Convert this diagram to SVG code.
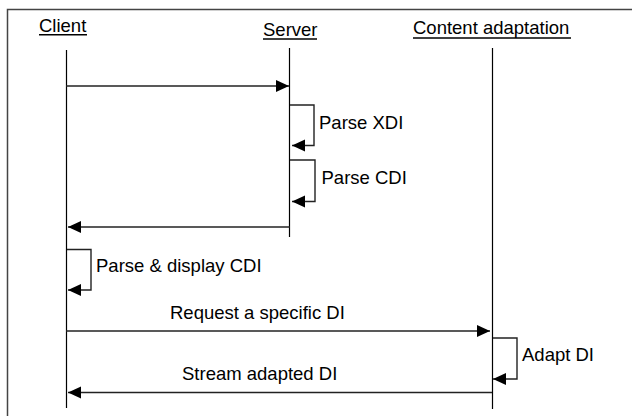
<svg xmlns="http://www.w3.org/2000/svg" width="632" height="416" viewBox="0 0 632 416">
<style>
text{font-family:"Liberation Sans",Arial,sans-serif;font-size:18.5px;fill:#000}
.ul{stroke:#000;stroke-width:1.4}
.life{stroke:#000;stroke-width:1.2;fill:none}
.msg{stroke:#222;stroke-width:1.4;fill:none}
</style>
<defs>
<marker id="ah" markerUnits="userSpaceOnUse" markerWidth="14" markerHeight="13" refX="13" refY="6" orient="auto">
<path d="M0,0 L13,6 L0,12 z" fill="#000"/>
</marker>
</defs>
<rect width="632" height="416" fill="#fff"/>
<path d="M7.5,416 V9.5 H632" fill="none" stroke="#444" stroke-width="1.5"/>
<g id="client">
<text x="39" y="32">Client</text>
<line class="ul" x1="39" y1="34.7" x2="87" y2="34.7"/>
<line class="life" x1="66.5" y1="50" x2="66.5" y2="408"/>
</g>
<g id="server">
<text x="263" y="36">Server</text>
<line class="ul" x1="263" y1="39" x2="317" y2="39"/>
<line class="life" x1="289.5" y1="48" x2="289.5" y2="237"/>
</g>
<g id="content-adaptation">
<text x="413" y="34">Content adaptation</text>
<line class="ul" x1="413" y1="38" x2="571" y2="38"/>
<line class="life" x1="492.5" y1="48" x2="492.5" y2="409"/>
</g>
<g id="connectors">
<path class="msg" d="M66,86 H289" marker-end="url(#ah)"/>
<path class="msg" d="M290,105 H314 V145.5 H292" marker-end="url(#ah)"/>
<text x="319" y="129">Parse XDI</text>
<path class="msg" d="M290,160 H315 V201.5 H292" marker-end="url(#ah)"/>
<text x="321.5" y="184">Parse CDI</text>
<path class="msg" d="M290,227 H68" marker-end="url(#ah)"/>
<path class="msg" d="M67,249.5 H91 V290 H68" marker-end="url(#ah)"/>
<text x="96" y="272">Parse &amp; display CDI</text>
<path class="msg" d="M66,331 H490" marker-end="url(#ah)"/>
<text x="170" y="319">Request a specific DI</text>
<path class="msg" d="M493,338 H517 V379 H493" marker-end="url(#ah)"/>
<text x="522" y="361">Adapt DI</text>
<path class="msg" d="M492,392.5 H68" marker-end="url(#ah)"/>
<text x="182" y="380">Stream adapted DI</text>
</g>
</svg>
